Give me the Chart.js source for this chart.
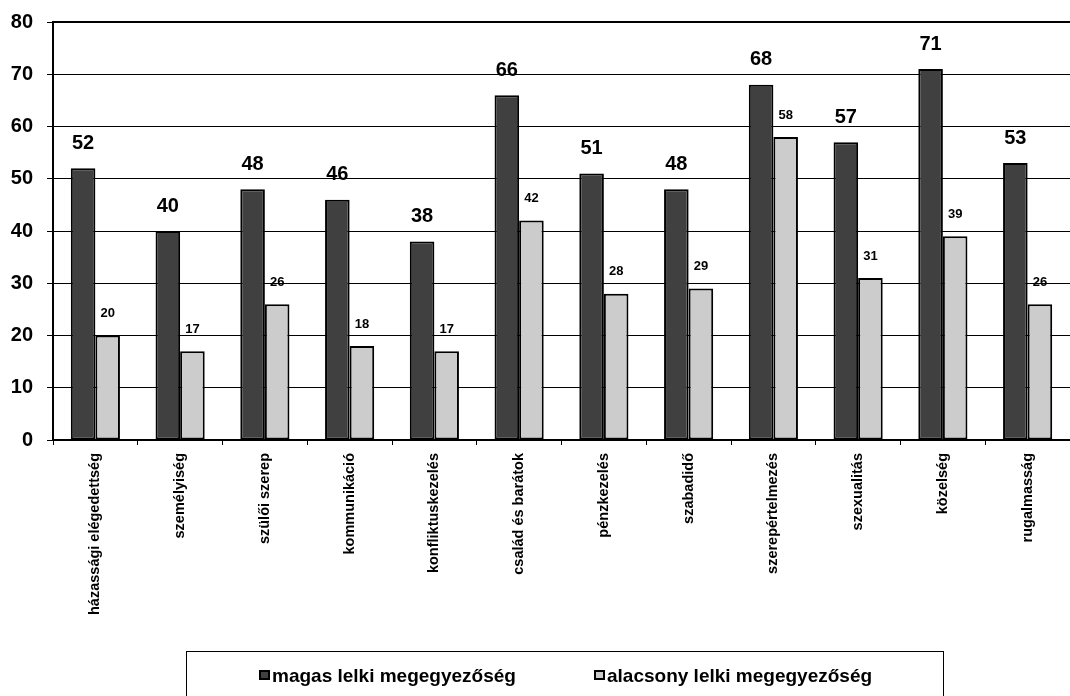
<!DOCTYPE html>
<html lang="hu">
<head>
<meta charset="utf-8">
<title>Lelki megegyezőség</title>
<script src="https://cdn.jsdelivr.net/npm/chart.js@4.4.1/dist/chart.umd.min.js"></script>
<style>
  html, body { margin: 0; padding: 0; background: #fff; }
  #wrap { position: relative; width: 1070px; height: 696px; }
</style>
</head>
<body>
<div id="wrap"><canvas id="chart" width="1070" height="696"></canvas></div>
<script>
const categories = [
  "házassági elégedettség",
  "személyiség",
  "szülői szerep",
  "kommunikáció",
  "konfliktuskezelés",
  "család és barátok",
  "pénzkezelés",
  "szabadidő",
  "szerepértelmezés",
  "szexualitás",
  "közelség",
  "rugalmasság"
];

const highValues = [52, 40, 48, 46, 38, 66, 51, 48, 68, 57, 71, 53];
const lowValues = [20, 17, 26, 18, 17, 42, 28, 29, 58, 31, 39, 26];

const seriesNames = ["magas lelki megegyezőség", "alacsony lelki megegyezőség"];
const yTicks = [0, 10, 20, 30, 40, 50, 60, 70, 80];

const FONT = "'Liberation Sans', Arial, sans-serif";
const DARK = "#404040";
const LIGHT = "#cccccc";

// value labels above each bar, big for the first series, small for the second
const valueLabels = {
  id: "valueLabels",
  afterDatasetsDraw(chart) {
    const ctx = chart.ctx;
    ctx.save();
    ctx.fillStyle = "#000";
    ctx.textAlign = "center";
    ctx.textBaseline = "middle";
    chart.data.datasets.forEach((dataset, i) => {
      const meta = chart.getDatasetMeta(i);
      const big = i === 0;
      ctx.font = `bold ${big ? 20 : 13}px ${FONT}`;
      meta.data.forEach((bar, j) => {
        const offset = big ? 25 : 22;
        ctx.fillText(String(dataset.data[j]), bar.x, bar.y - offset);
      });
    });
    ctx.restore();
  }
};

// boxed legend under the category labels
const boxLegend = {
  id: "boxLegend",
  afterDraw(chart) {
    const ctx = chart.ctx;
    ctx.save();
    ctx.strokeStyle = "#000";
    ctx.lineWidth = 1;
    ctx.strokeRect(186.5, 651.5, 757, 60);

    const items = [
      { x: 259, dataset: chart.data.datasets[0] },
      { x: 594, dataset: chart.data.datasets[1] }
    ];
    ctx.font = `bold 19px ${FONT}`;
    ctx.textBaseline = "middle";
    ctx.textAlign = "left";
    items.forEach((item) => {
      ctx.fillStyle = item.dataset.backgroundColor;
      ctx.fillRect(item.x, 670, 10, 9);
      ctx.strokeStyle = "#000";
      ctx.lineWidth = 2;
      ctx.strokeRect(item.x + 1, 671, 9, 8);
      ctx.fillStyle = "#000";
      ctx.fillText(item.dataset.label, item.x + 13, 677);
    });
    ctx.restore();
  }
};

// thick frame line along the top of the plot
const topFrame = {
  id: "topFrame",
  afterDraw(chart) {
    const { ctx, chartArea } = chart;
    ctx.save();
    ctx.strokeStyle = "#000";
    ctx.lineWidth = 2;
    ctx.beginPath();
    ctx.moveTo(chartArea.left - 1, chartArea.top);
    ctx.lineTo(chartArea.right, chartArea.top);
    ctx.stroke();
    ctx.restore();
  }
};

new Chart(document.getElementById("chart"), {
  type: "bar",
  data: {
    labels: categories,
    datasets: [
      {
        label: seriesNames[0],
        data: highValues,
        backgroundColor: DARK,
        borderColor: "#000",
        borderWidth: 2,
        borderSkipped: false,
        categoryPercentage: 0.58,
        barPercentage: 1
      },
      {
        label: seriesNames[1],
        data: lowValues,
        backgroundColor: LIGHT,
        borderColor: "#000",
        borderWidth: 2,
        borderSkipped: false,
        categoryPercentage: 0.58,
        barPercentage: 1
      }
    ]
  },
  options: {
    responsive: false,
    animation: false,
    devicePixelRatio: 1,
    layout: { padding: { top: 22, right: 0, bottom: 0, left: 0 } },
    plugins: {
      legend: { display: false },
      tooltip: { enabled: false }
    },
    scales: {
      x: {
        afterFit(scale) { scale.height = 256; },
        grid: {
          offset: true,
          drawOnChartArea: false,
          drawTicks: true,
          tickLength: 5,
          color: "#000"
        },
        border: { color: "#000", width: 2 },
        ticks: {
          color: "#000",
          font: { family: FONT, size: 14.5, weight: "bold" },
          minRotation: 90,
          maxRotation: 90,
          autoSkip: false,
          padding: 8
        }
      },
      y: {
        min: 0,
        max: 80,
        afterFit(scale) {
          scale.width = 53;
          scale.paddingTop = 0;
          scale.paddingBottom = 0;
        },
        afterBuildTicks(scale) { scale.ticks = yTicks.map((v) => ({ value: v })); },
        grid: { color: "#000", lineWidth: 1, tickLength: 6 },
        border: { color: "#000", width: 2 },
        ticks: {
          color: "#000",
          font: { family: FONT, size: 20, weight: "bold" },
          padding: 14
        }
      }
    }
  },
  plugins: [valueLabels, boxLegend, topFrame]
});
</script>
</body>
</html>
